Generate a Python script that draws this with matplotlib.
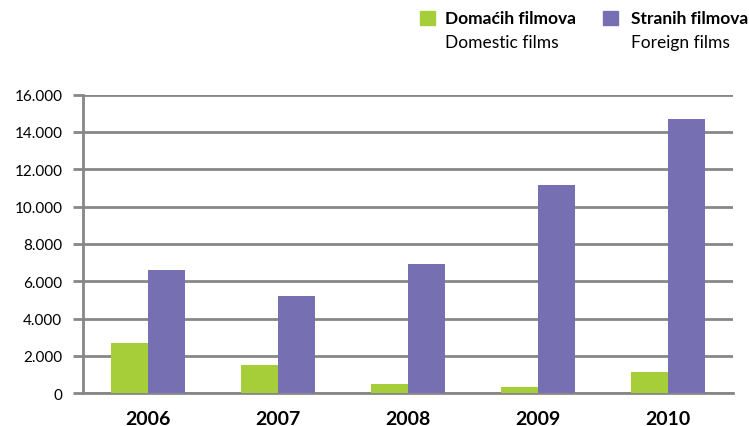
import numpy as np
import matplotlib.pyplot as plt
from matplotlib.ticker import FuncFormatter

years = ['2006', '2007', '2008', '2009', '2010']
domestic = [2680, 1510, 490, 340, 1110]
foreign = [6600, 5190, 6930, 11150, 14700]

green = '#a6ce39'
purple = '#7670b2'
grid_col = '#878787'

plt.rcParams['font.family'] = ['Lato', 'DejaVu Sans']

fig = plt.figure(figsize=(7.49, 4.27), dpi=100)
ax = fig.add_axes([0.111, 0.077, 0.868, 0.699])

x = np.arange(len(years))
w = 0.285
ax.bar(x - w / 2, domestic, w, color=green, zorder=3)
ax.bar(x + w / 2, foreign, w, color=purple, zorder=3)

ax.set_xlim(-0.5, 4.5)
ax.set_ylim(0, 16000)
ax.set_yticks(range(0, 16001, 2000))
ax.yaxis.set_major_formatter(FuncFormatter(lambda v, p: f'{int(v):,}'.replace(',', '.')))
ax.yaxis.grid(True, color=grid_col, linewidth=2)
ax.set_axisbelow(True)

ax.set_xticks(x)
ax.set_xticklabels(years, fontsize=14, fontweight='bold')
ax.tick_params(axis='x', length=0, pad=12)
ax.tick_params(axis='y', length=7, width=2, color=grid_col, labelsize=11, pad=8)

for s in ['top', 'right']:
    ax.spines[s].set_visible(False)
for s in ['left', 'bottom']:
    ax.spines[s].set_color(grid_col)
    ax.spines[s].set_linewidth(2)

# legend drawn by hand
fig.patches.append(plt.Rectangle((420 / 749, 1 - 26 / 427), 15 / 749, 14 / 427,
                                 transform=fig.transFigure, color=green))
fig.patches.append(plt.Rectangle((603 / 749, 1 - 26 / 427), 15 / 749, 14 / 427,
                                 transform=fig.transFigure, color=purple))
fig.text(445 / 749, 1 - 19 / 427, 'Domaćih filmova', fontsize=12.5, fontweight='bold', va='center')
fig.text(445 / 749, 1 - 43 / 427, 'Domestic films', fontsize=12.5, va='center')
fig.text(631 / 749, 1 - 19 / 427, 'Stranih filmova', fontsize=12.5, fontweight='bold', va='center')
fig.text(631 / 749, 1 - 43 / 427, 'Foreign films', fontsize=12.5, va='center')

fig.savefig('out.png', dpi=100)
